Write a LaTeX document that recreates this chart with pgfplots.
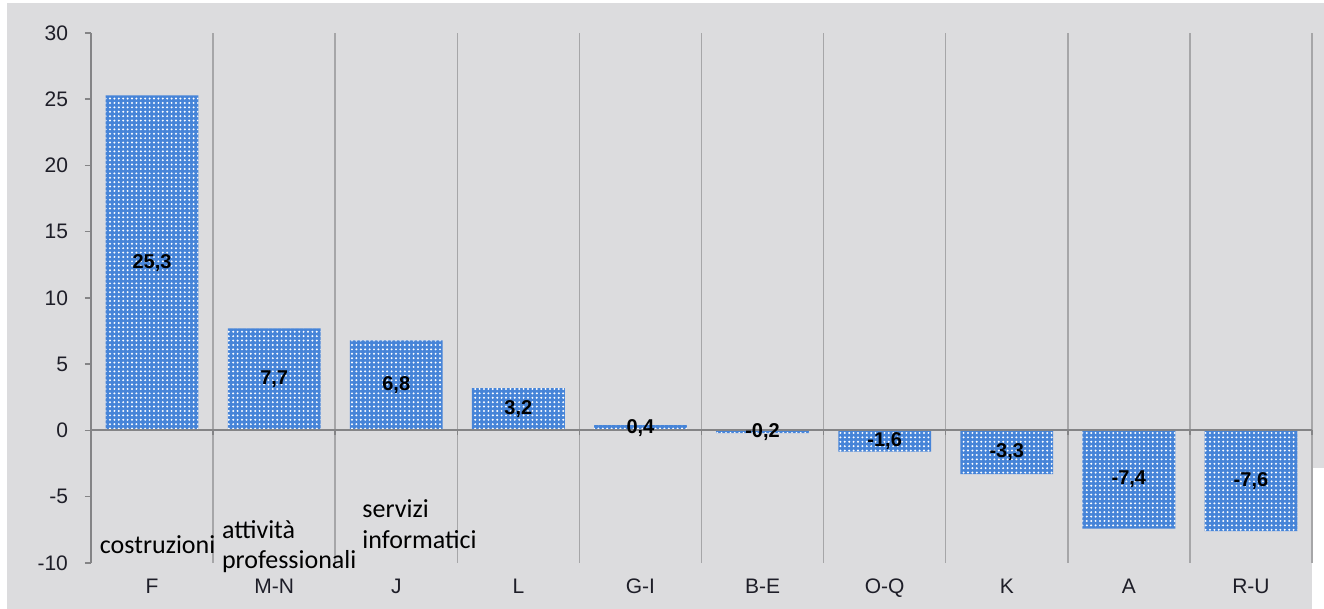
\documentclass[border=0pt]{standalone}
\usepackage{pgfplots}
\pgfplotsset{compat=1.18}
\usepackage{pgfplotstable}
\usepackage{fontspec}
\setmainfont{Liberation Sans}
\newfontfamily\carlito{Carlito}
\usetikzlibrary{patterns.meta}

\definecolor{bg}{RGB}{220,220,222}
\definecolor{barblue}{RGB}{70,132,216}
\definecolor{gridgray}{RGB}{166,166,168}
\definecolor{axisgray}{RGB}{132,132,134}
\definecolor{ticktext}{RGB}{30,30,40}

% variazione per settore
\pgfplotstableread{
x  val
0  25.3
1  7.7
2  6.8
3  3.2
4  0.4
5  -0.2
6  -1.6
7  -3.3
8  -7.4
9  -7.6
}\settori

\begin{document}
\begin{tikzpicture}
\useasboundingbox (0,0) rectangle (662pt,304.5pt);
\fill[bg] (3.5pt,0) rectangle (662pt,303pt);
\fill[white] (656pt,0) rectangle (662pt,70.5pt);
\begin{axis}[
    at={(45.5pt,23pt)}, anchor=south west,
    width=610.5pt, height=265pt, scale only axis,
    xmin=-0.5, xmax=9.5, ymin=-10, ymax=30,
    axis x line*=bottom, axis y line*=left,
    x axis line style={draw=none},
    y axis line style={axisgray, line width=1pt},
    xtick={0,...,9},
    xticklabels={F,M-N,J,L,G-I,B-E,O-Q,K,A,R-U},
    major x tick style={draw=none},
    minor xtick={0.5,1.5,2.5,3.5,4.5,5.5,6.5,7.5,8.5,9.5},
    xminorgrids,
    minor grid style={gridgray, line width=0.75pt},
    minor tick length=0pt,
    ytick={-10,-5,...,30},
    tick align=outside,
    major tick length=3pt,
    y tick style={axisgray, line width=0.75pt},
    tick label style={font=\fontsize{10.5}{12}\selectfont, text=ticktext},
    /pgf/number format/assume math mode=true,
    yticklabel style={xshift=-5pt},
    xticklabel style={yshift=-1.5pt},
    clip=false,
    ybar, bar width=0.76, bar shift=0pt,
  ]
  \addplot[
      fill=barblue, draw=none,
      postaction={pattern={Dots[distance=2.2pt, radius=0.55pt]}, pattern color=white},
      nodes near coords,
      visualization depends on={y \as \rawy},
      every node near coord/.append style={anchor=center,
        shift={(axis direction cs:0,-\rawy/2)},
        font=\bfseries\fontsize{10}{11}\selectfont, text=black,
        /pgf/number format/.cd, use comma, fixed, fixed zerofill, precision=1},
    ] table[x=x, y=val] {\settori};

  \draw[axisgray, line width=1pt] (axis cs:-0.5,0) -- (axis cs:9.5,0);
  \foreach \k in {0.5,1.5,2.5,3.5,4.5,5.5,6.5,7.5,8.5,9.5} {
    \edef\temp{\noexpand\draw[axisgray, line width=0.75pt] (axis cs:\k,0) -- ++(0pt,-2.5pt);}
    \temp
  }

  \node[anchor=base west, inner sep=0pt, font=\carlito\fontsize{13}{15}\selectfont]
    at (axis cs:-0.43,-9.28) {costruzioni};
  \node[anchor=base west, inner sep=0pt, font=\carlito\fontsize{13}{15}\selectfont]
    at (axis cs:0.57,-8.15) {attività};
  \node[anchor=base west, inner sep=0pt, font=\carlito\fontsize{13}{15}\selectfont]
    at (axis cs:0.57,-10.4) {professionali};
  \node[anchor=base west, inner sep=0pt, font=\carlito\fontsize{13}{15}\selectfont]
    at (axis cs:1.72,-6.57) {servizi};
  \node[anchor=base west, inner sep=0pt, font=\carlito\fontsize{13}{15}\selectfont]
    at (axis cs:1.72,-8.9) {informatici};
\end{axis}
\end{tikzpicture}
\end{document}
